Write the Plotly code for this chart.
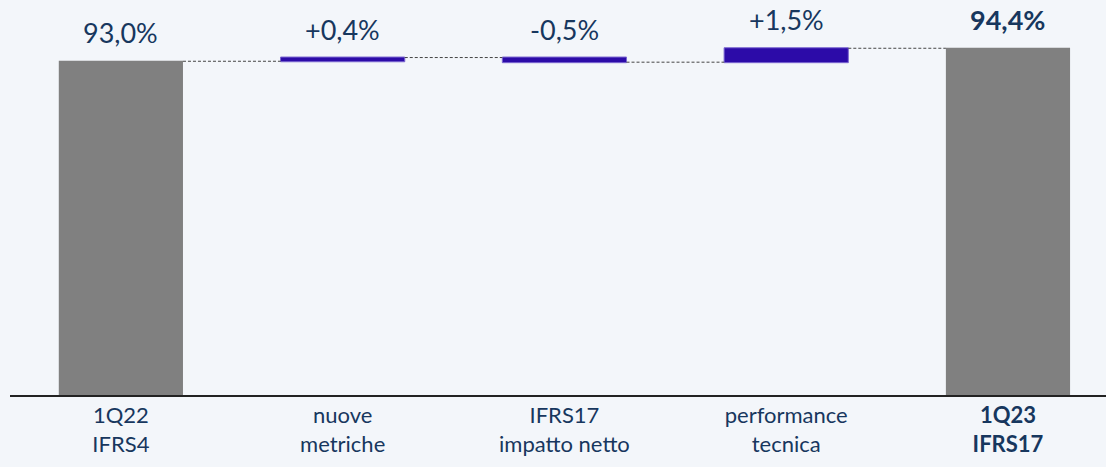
import plotly.graph_objects as go

categories = ["1Q22<br>IFRS4", "nuove<br>metriche", "IFRS17<br>impatto netto",
              "performance<br>tecnica", "<b>1Q23<br>IFRS17</b>"]
measures = ["absolute", "relative", "relative", "relative", "total"]
values = [93.0, 0.4, -0.5, 1.5, 0]
labels = ["93,0%", "+0,4%", "-0,5%", "+1,5%", "<b>94,4%</b>"]

navy = "#17375E"
bg = "#F3F6FA"
font_family = "Lato, Open Sans, sans-serif"

xs = list(range(len(categories)))

fig = go.Figure(go.Waterfall(
    x=xs,
    measure=measures,
    y=values,
    width=0.56,
    increasing=dict(marker=dict(color="#2C0BA8", line=dict(color="#7A66D0", width=1))),
    decreasing=dict(marker=dict(color="#2C0BA8", line=dict(color="#7A66D0", width=1))),
    totals=dict(marker=dict(color="#808080", line=dict(width=0))),
    connector=dict(line=dict(color="#444444", width=1, dash="3px,2px")),
    hoverinfo="skip",
))

# label positions: top of each bar, from the running total
running = 0.0
for x, m, v, t in zip(xs, measures, values, labels):
    if m == "absolute":
        top = v
        running = v
    elif m == "relative":
        top = max(running, running + v)
        running += v
    else:
        top = running
    fig.add_annotation(x=x, y=top, text=t, showarrow=False, yanchor="bottom",
                       yshift=10, font=dict(family=font_family, size=27, color=navy))

fig.update_layout(
    width=1106, height=467,
    margin=dict(l=10, r=0, t=0, b=72, autoexpand=False),
    paper_bgcolor=bg, plot_bgcolor=bg,
    showlegend=False,
    xaxis=dict(
        tickmode="array", tickvals=xs, ticktext=categories,
        range=[-0.5, 4.442], automargin=False,
        showgrid=False, zeroline=False,
        showline=True, linecolor="#222222", linewidth=1.5,
        ticks="", tickfont=dict(family=font_family, size=22, color=navy),
    ),
    yaxis=dict(range=[57.04, 99.6], visible=False, showgrid=False),
)

fig.write_html("out.html", config={"displayModeBar": False},
               post_script="document.body.style.margin='0';")
